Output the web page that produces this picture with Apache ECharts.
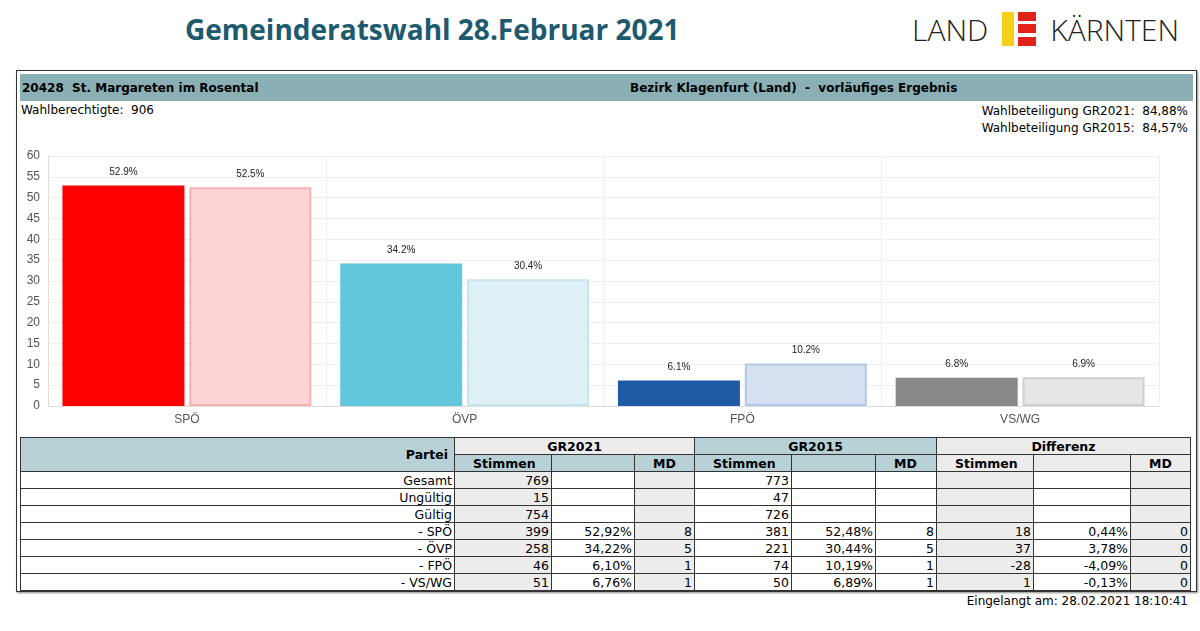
<!DOCTYPE html>
<html><head><meta charset="utf-8">
<script src="https://cdn.jsdelivr.net/npm/echarts@6/dist/echarts.min.js"></script>
<style>
body{margin:0;width:1200px;height:631px;background:#fff;font-family:"DejaVu Sans",Verdana,sans-serif;position:relative;overflow:hidden}
#title{position:absolute;left:185px;top:10px;font-family:"Open Sans",sans-serif;font-weight:700;font-size:28px;color:#1d5a6e;white-space:nowrap}
#logo{position:absolute;left:912px;top:9px;font-family:"Open Sans",sans-serif;font-weight:300;font-size:30px;color:#222;white-space:nowrap}
#box{position:absolute;left:16px;top:70px;width:1179px;height:520px;border:1px solid #333;box-shadow:1px 1px 2px #888}
#bar{position:absolute;left:3px;top:3px;width:1173px;height:27px;background:#8aafb4;font-size:12px;font-weight:bold}
#chart{position:absolute;left:0;top:70px;width:1180px;height:290px}
table{position:absolute;left:3px;top:366px;border-collapse:collapse;font-size:12.5px;font-family:"DejaVu Sans",Verdana,sans-serif}
td,th{border:1px solid #333;height:16px;padding:0 2px;text-align:right}
th{font-weight:bold}
.h{background:#b7d1d6}.g{background:#ececec}
</style></head><body>
<div id="title">Gemeinderatswahl 28.Februar 2021</div>
<div id="logo">LAND<span style="display:inline-block;position:relative;width:34px;height:34px;vertical-align:-5px;margin:0 14px 0 14px"><span style="position:absolute;left:0;top:0;width:12px;height:34px;background:#f7d117"></span><span style="position:absolute;left:16px;top:0;width:18px;height:9px;background:#e2231a"></span><span style="position:absolute;left:16px;top:12px;width:18px;height:9px;background:#e2231a"></span><span style="position:absolute;left:16px;top:25px;width:18px;height:9px;background:#e2231a"></span></span>KÄRNTEN</div>
<div id="box">
<div id="bar"><span style="position:absolute;left:2px;top:7px">20428&nbsp; St. Margareten im Rosental</span><span style="position:absolute;left:610px;top:7px">Bezirk Klagenfurt (Land)&nbsp; -&nbsp; vorläufiges Ergebnis</span></div>
<div style="position:absolute;left:4px;top:32px;font-size:12px">Wahlberechtigte:&nbsp; 906</div>
<div style="position:absolute;right:8px;top:32px;font-size:12px;text-align:right;line-height:17px">Wahlbeteiligung GR2021:&nbsp; 84,88%<br>Wahlbeteiligung GR2015:&nbsp; 84,57%</div>
<div id="chart"></div>
<table id="tab"></table>
</div>
<div style="position:absolute;right:12px;top:594px;font-size:12px">Eingelangt am: 28.02.2021 18:10:41</div>
<script>
var parties = ['SPÖ', 'ÖVP', 'FPÖ', 'VS/WG'];
var pct2021 = [52.9, 34.2, 6.1, 6.8];
var pct2015 = [52.5, 30.4, 10.2, 6.9];
var col2021 = ['#ff0000', '#62c6dc', '#1f5aa6', '#888888'];
var col2015 = ['#fdd4d3', '#dff1f7', '#d4dfef', '#e6e6e6'];
var border2015 = ['#f6b3b3', '#c6e6ef', '#b4c7e6', '#cfcfcf'];
var tickLabels = [0, 5, 10, 15, 20, 25, 30, 35, 40, 45, 50, 55, 60];

var rowNames = ['Gesamt', 'Ungültig', 'Gültig', '- SPÖ', '- ÖVP', '- FPÖ', '- VS/WG'];
var st2021 = [769, 15, 754, 399, 258, 46, 51];
var pc2021 = ['', '', '', '52,92%', '34,22%', '6,10%', '6,76%'];
var md2021 = ['', '', '', 8, 5, 1, 1];
var st2015 = [773, 47, 726, 381, 221, 74, 50];
var pc2015 = ['', '', '', '52,48%', '30,44%', '10,19%', '6,89%'];
var md2015 = ['', '', '', 8, 5, 1, 1];
var stDiff = ['', '', '', 18, 37, -28, 1];
var pcDiff = ['', '', '', '0,44%', '3,78%', '-4,09%', '-0,13%'];
var mdDiff = ['', '', '', 0, 0, 0, 0];

var myChart = echarts.init(document.getElementById('chart'));
var lbl = {show: true, position: 'top', fontSize: 10, fontFamily: 'Arial', color: '#222', distance: 8, formatter: function(p){ return p.value.toFixed(1) + '%'; }};
myChart.setOption({
    animation: false,
    grid: {left: 31, right: 38, top: 15, bottom: 25},
    xAxis: {
        type: 'category', data: parties,
        axisLine: {lineStyle: {color: '#ddd'}}, axisTick: {show: false},
        splitLine: {show: true, lineStyle: {color: '#eee'}},
        axisLabel: {color: '#555', fontSize: 12, fontFamily: 'Arial', margin: 8}
    },
    yAxis: {
        type: 'value', min: 0, max: 60, interval: 5,
        axisLabel: {color: '#555', fontSize: 12, fontFamily: 'Arial'},
        axisLine: {show: true, lineStyle: {color: '#ddd'}},
        splitLine: {lineStyle: {color: '#eee'}}
    },
    series: [
        {type: 'bar', barWidth: 122, barGap: '4%', label: lbl,
         data: pct2021.map(function(v, i){ return {value: v, itemStyle: {color: col2021[i]}}; })},
        {type: 'bar', barWidth: 122, label: lbl,
         data: pct2015.map(function(v, i){ return {value: v, itemStyle: {color: col2015[i], borderColor: border2015[i], borderWidth: 2}}; })}
    ]
});

var w = [434, 97, 83, 60, 97, 84, 61, 97, 97, 60];
var h = '<colgroup>' + w.map(function(x){ return '<col style="width:' + x + 'px">'; }).join('') + '</colgroup>';
h += '<tr><th class="h" rowspan="2" style="padding-right:6px">Partei</th><th class="g" colspan="3" style="text-align:center">GR2021</th><th class="h" colspan="3" style="text-align:center">GR2015</th><th class="g" colspan="3" style="text-align:center">Differenz</th></tr>';
h += '<tr>' + ['h', 'h', 'g'].map(function(c){ return '<th class="' + c + '" style="text-align:left;padding-left:18px">Stimmen</th><th class="' + c + '"></th><th class="' + c + '" style="text-align:left;padding-left:18px">MD</th>'; }).join('') + '</tr>';
for (var i = 0; i < rowNames.length; i++) {
    h += '<tr><td>' + rowNames[i] + '</td><td class="g">' + st2021[i] + '</td><td>' + pc2021[i] + '</td><td class="g">' + md2021[i] +
        '</td><td>' + st2015[i] + '</td><td>' + pc2015[i] + '</td><td>' + md2015[i] +
        '</td><td class="g">' + stDiff[i] + '</td><td>' + pcDiff[i] + '</td><td class="g">' + mdDiff[i] + '</td></tr>';
}
document.getElementById('tab').innerHTML = h;
</script>
</body></html>
